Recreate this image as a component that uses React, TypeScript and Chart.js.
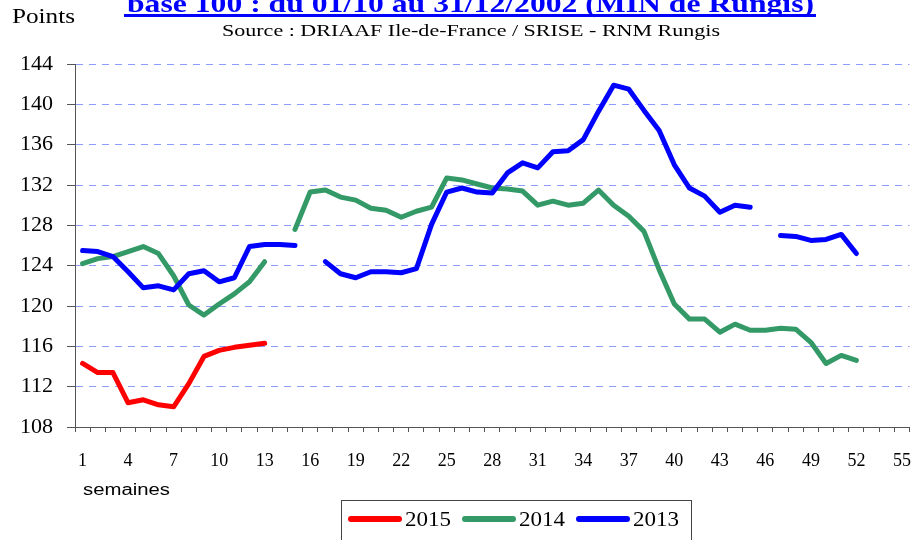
import React, { useEffect, useRef } from "react";
import { Chart, registerables } from "chart.js";

Chart.register(...registerables);

const TITLE = "base 100 : du 01/10 au 31/12/2002 (MIN de Rungis)";
const SOURCE = "Source : DRIAAF Ile-de-France / SRISE - RNM Rungis";
const Y_UNIT = "Points";
const X_UNIT = "semaines";

const weeks = [
  "1", "2", "3", "4", "5", "6", "7", "8", "9", "10",
  "11", "12", "13", "14", "15", "16", "17", "18", "19", "20",
  "21", "22", "23", "24", "25", "26", "27", "28", "29", "30",
  "31", "32", "33", "34", "35", "36", "37", "38", "39", "40",
  "41", "42", "43", "44", "45", "46", "47", "48", "49", "50",
  "51", "52", "53", "54", "55",
];

const seriesLabels = ["2015", "2014", "2013"];
const seriesColors = ["#ff0000", "#339966", "#0000ff"];

const s2015 = [114.3, 113.4, 113.4, 110.4, 110.7, 110.2, 110.0, 112.3, 115.0, 115.6, 115.9, 116.1, 116.3];

const s2014 = [
  124.2, 124.7, 124.9, 125.4, 125.9, 125.2, 123.0, 120.1, 119.1, 120.2,
  121.2, 122.4, 124.4, null, 127.6, 131.3, 131.5, 130.8, 130.5, 129.7,
  129.5, 128.8, 129.4, 129.8, 132.7, 132.5, 132.1, 131.7, 131.6, 131.4,
  130.0, 130.4, 130.0, 130.2, 131.5, 130.0, 128.9, 127.4, 123.6, 120.2,
  118.7, 118.7, 117.4, 118.2, 117.6, 117.6, 117.8, 117.7, 116.4, 114.3,
  115.1, 114.6,
];

const s2013 = [
  125.5, 125.4, 124.9, 123.4, 121.8, 122.0, 121.6, 123.2, 123.5, 122.4,
  122.8, 125.9, 126.1, 126.1, 126.0, null, 124.4, 123.2, 122.8, 123.4,
  123.4, 123.3, 123.7, 128.1, 131.3, 131.7, 131.3, 131.2, 133.2, 134.2,
  133.7, 135.3, 135.4, 136.5, 139.3, 141.9, 141.5, 139.4, 137.4, 134.0,
  131.7, 130.9, 129.3, 130.0, 129.8, null, 127.0, 126.9, 126.5, 126.6,
  127.1, 125.2,
];

const Y_MIN = 108;
const Y_MAX = 144;
const Y_STEP = 4;

const SERIF = '"Liberation Serif", "Times New Roman", serif';

function fitText(
  ctx: CanvasRenderingContext2D,
  text: string,
  x: number,
  y: number,
  width: number,
  font: string,
  color: string,
  baseline: CanvasTextBaseline
) {
  ctx.save();
  ctx.font = font;
  ctx.fillStyle = color;
  ctx.textAlign = "left";
  ctx.textBaseline = baseline;
  const w = ctx.measureText(text).width;
  ctx.translate(x, y);
  ctx.scale(width / w, 1);
  ctx.fillText(text, 0, 0);
  ctx.restore();
}

const decorPlugin = {
  id: "decor",
  afterDraw(chart: any) {
    const ctx: CanvasRenderingContext2D = chart.ctx;
    // title (clipped at top as in the reference)
    fitText(ctx, TITLE, 127, 12, 687, "bold 26px " + SERIF, "#0000ff", "alphabetic");
    ctx.save();
    ctx.fillStyle = "#0000ff";
    ctx.fillRect(124, 14, 692, 3);
    ctx.restore();
    fitText(ctx, SOURCE, 222, 32, 498, "16px " + SERIF, "#000000", "middle");
    fitText(ctx, Y_UNIT, 12, 18, 63, "20px " + SERIF, "#000000", "middle");
    fitText(ctx, X_UNIT, 83, 491, 87, '16px "Liberation Sans", Arial, sans-serif', "#000000", "middle");

    // legend
    ctx.save();
    ctx.strokeStyle = "#444444";
    ctx.lineWidth = 1;
    ctx.strokeRect(341.5, 500.5, 350, 60);
    const starts = [349, 463, 577];
    chart.data.datasets.forEach((ds: any, i: number) => {
      const x0 = starts[i];
      ctx.beginPath();
      ctx.strokeStyle = ds.borderColor;
      ctx.lineWidth = 6;
      ctx.lineCap = "round";
      ctx.moveTo(x0 + 2, 519);
      ctx.lineTo(x0 + 50, 519);
      ctx.stroke();
      fitText(ctx, ds.label, x0 + 56, 520, 46, "22px " + SERIF, "#000000", "middle");
    });
    ctx.restore();
  },
};

export default function App() {
  const ref = useRef<HTMLCanvasElement | null>(null);

  useEffect(() => {
    if (!ref.current) return;
    const seriesData = [s2015, s2014, s2013];
    const chart = new Chart(ref.current, {
      type: "line",
      data: {
        labels: weeks,
        datasets: seriesLabels.map((label, i) => ({
          label,
          data: seriesData[i],
          borderColor: seriesColors[i],
          backgroundColor: seriesColors[i],
          borderWidth: 5,
          pointRadius: 0,
          tension: 0,
          spanGaps: false,
          borderCapStyle: "round" as const,
          borderJoinStyle: "round" as const,
          order: 2 - i,
        })),
      },
      options: {
        responsive: false,
        animation: false,
        events: [],
        layout: { padding: { top: 64, left: 0, right: 3.5, bottom: 0 } },
        plugins: {
          legend: { display: false },
          title: { display: false },
          tooltip: { enabled: false },
        },
        scales: {
          x: {
            type: "category",
            offset: true,
            afterFit: (s: any) => {
              s.height = 113;
            },
            grid: {
              display: true,
              drawOnChartArea: false,
              drawTicks: true,
              tickLength: 5,
              tickColor: "#555555",
              offset: true,
            },
            border: { display: true, color: "#555555", width: 1 },
            ticks: {
              autoSkip: false,
              maxRotation: 0,
              minRotation: 0,
              padding: 0,
              color: "#000000",
              font: { family: SERIF, size: 18, lineHeight: 3.3 },
              callback: (_v: any, i: number) => (i % 3 === 0 ? weeks[i] : ""),
            },
          },
          y: {
            min: Y_MIN,
            max: Y_MAX,
            afterFit: (s: any) => {
              s.width = 75;
            },
            grid: {
              color: "#8c9cff",
              lineWidth: 1,
              drawTicks: true,
              tickLength: 8,
              tickColor: "#555555",
              tickBorderDash: [],
            } as any,
            border: { display: true, color: "#555555", width: 1, dash: [7, 6] },
            ticks: {
              stepSize: Y_STEP,
              padding: 14,
              color: "#000000",
              font: { family: SERIF, size: 22 },
            },
          },
        },
      },
      plugins: [decorPlugin],
    });
    return () => chart.destroy();
  }, []);

  return (
    <div style={{ position: "fixed", left: 0, top: 0, width: 913, height: 540, background: "#ffffff" }}>
      <canvas ref={ref} width={913} height={540} style={{ display: "block" }} />
    </div>
  );
}
